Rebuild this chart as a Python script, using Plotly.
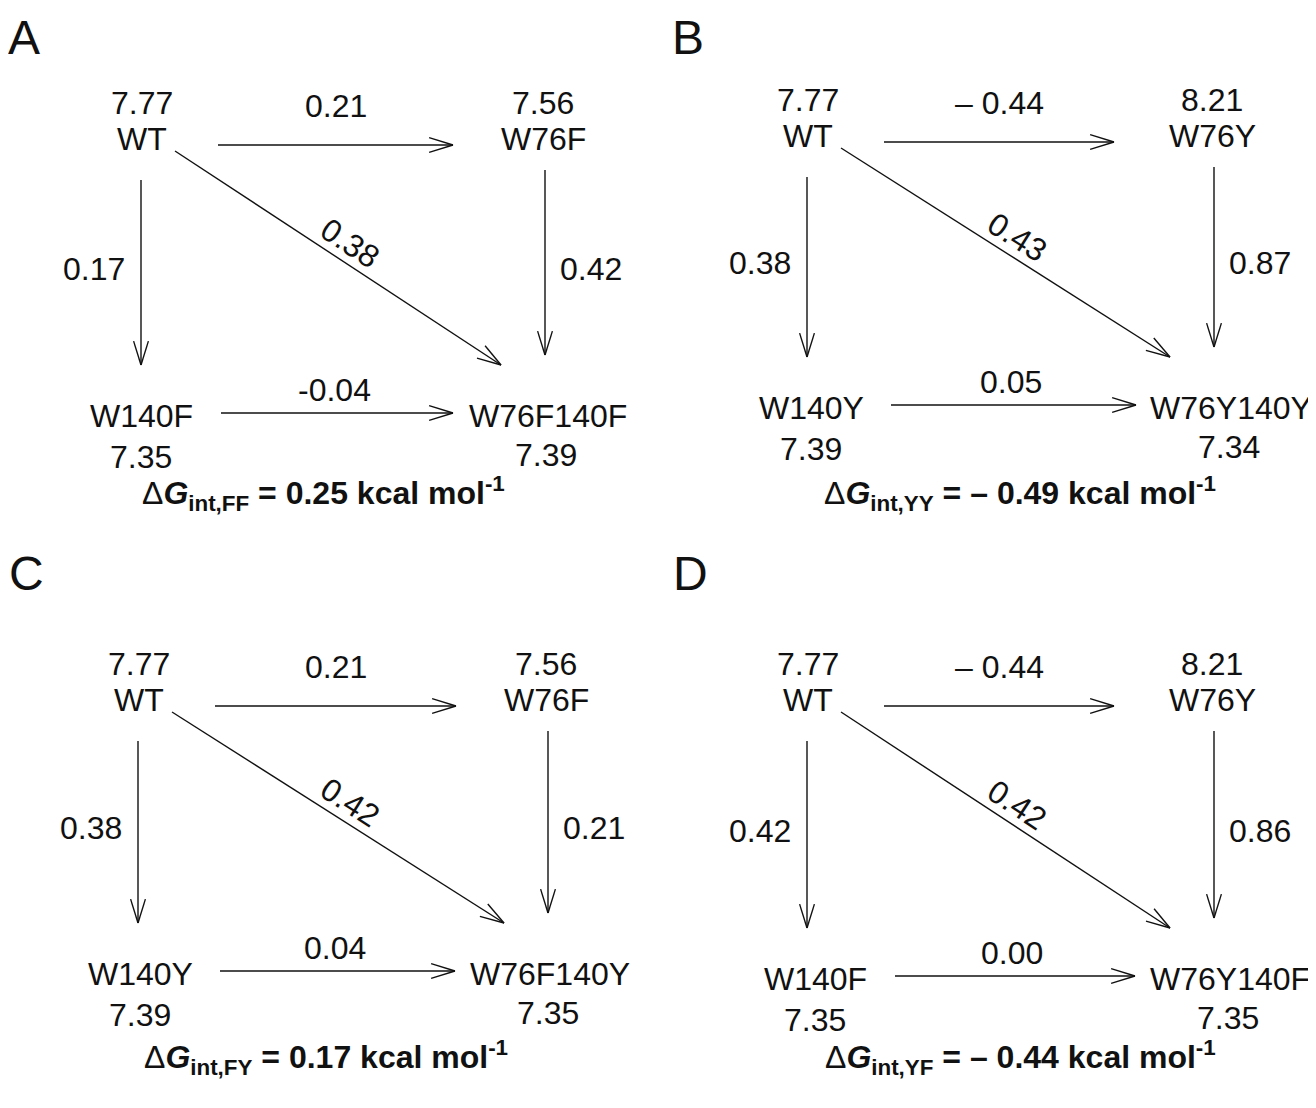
import math
import plotly.graph_objects as go

# ---------------- data ----------------
panel_letters = ["A", "B", "C", "D"]
wt_names = ["WT", "WT", "WT", "WT"]
wt_values = ["7.77", "7.77", "7.77", "7.77"]
single76_names = ["W76F", "W76Y", "W76F", "W76Y"]
single76_values = ["7.56", "8.21", "7.56", "8.21"]
single140_names = ["W140F", "W140Y", "W140Y", "W140F"]
single140_values = ["7.35", "7.39", "7.39", "7.35"]
double_names = ["W76F140F", "W76Y140Y", "W76F140Y", "W76Y140F"]
double_values = ["7.39", "7.34", "7.35", "7.35"]
edge_top = ["0.21", "\u2013 0.44", "0.21", "\u2013 0.44"]
edge_left = ["0.17", "0.38", "0.38", "0.42"]
edge_right = ["0.42", "0.87", "0.21", "0.86"]
edge_diag = ["0.38", "0.43", "0.42", "0.42"]
edge_bottom = ["-0.04", "0.05", "0.04", "0.00"]
int_subscripts = ["FF", "YY", "FY", "YF"]
int_values = ["0.25", "\u2013 0.49", "0.17", "\u2013 0.44"]

# ---------------- layout geometry (screen pixel units) ----------------
W, H = 1316, 1108
PAGE_OFFSET = 8  # default body margin of the html page
geom = [
    dict(wx=142, wy=142, rx=543, blx=141, brx=548, by=417, tg=90, lx=24, ly=37, fx=323, fy=493),
    dict(wx=808, wy=139, rx=1212, blx=811, brx=1231, by=409, tg=98, lx=688, ly=37, fx=1020, fy=493),
    dict(wx=139, wy=703, rx=546, blx=140, brx=550, by=975, tg=90, lx=26, ly=573, fx=326, fy=1057),
    dict(wx=808, wy=703, rx=1212, blx=815, brx=1230, by=980, tg=98, lx=690, ly=573, fx=1020, fy=1057),
]

FONT = "Liberation Sans, Arial, Helvetica, sans-serif"
INK = "#111111"
FS = 32

fig = go.Figure()
annotations = []


def add_text(x, y, text, size=FS, angle=0):
    annotations.append(dict(
        x=x, y=y, xref="x", yref="y", text=text, showarrow=False,
        textangle=angle, xanchor="center", yanchor="middle",
        font=dict(family=FONT, size=size, color=INK),
    ))


def arrow_path(x0, y0, x1, y1, L=25, half=0.30):
    ang = math.atan2(y1 - y0, x1 - x0)
    xs = [x0, x1, None]
    ys = [y0, y1, None]
    for s in (1, -1):
        a = ang + math.pi - s * half
        xs += [x1 + L * math.cos(a), x1, None]
        ys += [y1 + L * math.sin(a), y1, None]
    return xs, ys


for i, g in enumerate(geom):
    wx, wy, rx, by = g["wx"], g["wy"], g["rx"], g["by"]
    blx, brx = g["blx"], g["brx"]

    # panel letter
    add_text(g["lx"], g["ly"], panel_letters[i], size=48)

    # nodes
    add_text(wx, wy - 39, wt_values[i])
    add_text(wx, wy - 3, wt_names[i])
    add_text(rx, wy - 39, single76_values[i])
    add_text(rx, wy - 3, single76_names[i])
    add_text(blx, by - 1, single140_names[i])
    add_text(blx, by + 40, single140_values[i])
    add_text(brx, by - 1, double_names[i])
    add_text(brx - 2, by + 38, double_values[i])

    # arrows
    arrows = [
        (wx + 76, wy + 3, rx - g["tg"], wy + 3),     # top
        (blx + 80, by - 4, brx - 95, by - 4),        # bottom
        (wx - 1, wy + 38, wx - 1, by - 52),          # left vertical
        (rx + 2, wy + 28, rx + 2, by - 62),          # right vertical
        (wx + 33, wy + 9, rx - 42, by - 52),         # diagonal
    ]
    X, Y = [], []
    for a in arrows:
        xs, ys = arrow_path(*a)
        X += xs
        Y += ys
    fig.add_trace(go.Scatter(x=X, y=Y, mode="lines",
                             line=dict(color=INK, width=1.4),
                             hoverinfo="skip", showlegend=False))

    # edge labels
    t = arrows[0]
    add_text((t[0] + t[2]) / 2, wy - 36, edge_top[i])
    b = arrows[1]
    add_text((b[0] + b[2]) / 2 - 3, by - 27, edge_bottom[i])
    vmid = (wy + by) / 2 - 11
    add_text(wx - 48, vmid, edge_left[i])
    add_text(rx + 48, vmid, edge_right[i])
    d = arrows[4]
    ang = math.degrees(math.atan2(d[3] - d[1], d[2] - d[0]))
    mx, my = (d[0] + d[2]) / 2, (d[1] + d[3]) / 2
    nx, ny = math.sin(math.radians(ang)), -math.cos(math.radians(ang))
    add_text(mx + 18 * nx + 2, my + 18 * ny, edge_diag[i], angle=ang)

    # interaction energy formula
    formula = ("\u0394<b><i>G</i><sub>int," + int_subscripts[i] + "</sub> = "
               + int_values[i] + " kcal mol<sup>-1</sup></b>")
    add_text(g["fx"], g["fy"], formula, size=32)

fig.update_layout(
    width=W, height=H,
    margin=dict(l=0, r=0, t=0, b=0),
    paper_bgcolor="white", plot_bgcolor="white",
    xaxis=dict(range=[PAGE_OFFSET, W + PAGE_OFFSET], visible=False, fixedrange=True),
    yaxis=dict(range=[H + PAGE_OFFSET, PAGE_OFFSET], visible=False, fixedrange=True),
    annotations=annotations,
    showlegend=False,
)

fig.write_html("out.html")
